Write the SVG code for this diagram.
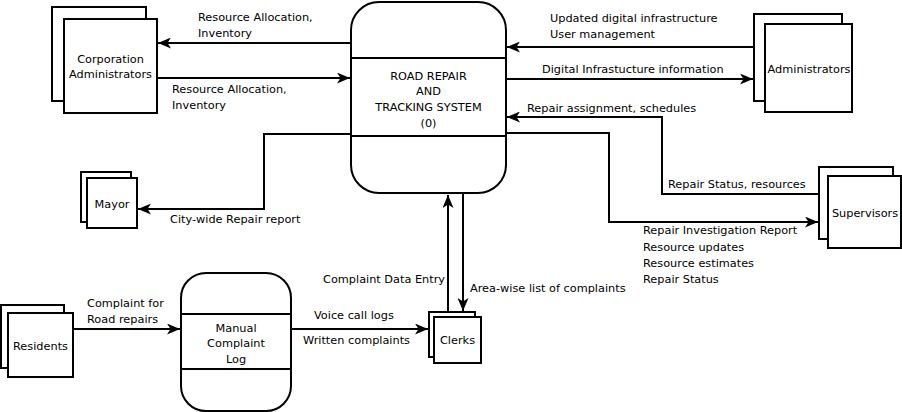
<svg xmlns="http://www.w3.org/2000/svg" width="902" height="412" viewBox="0 0 902 412">
<style>
.box{fill:#fff;stroke:#000;stroke-width:2}
.ln{fill:none;stroke:#000;stroke-width:2}
text{font-family:"DejaVu Sans",Verdana,sans-serif;font-size:11.3px;fill:#000}
.c{text-anchor:middle}
.e{text-anchor:end}
</style>
<defs>
<marker id="ah" viewBox="0 0 13 11" markerUnits="userSpaceOnUse" markerWidth="13" markerHeight="11" refX="13" refY="5.5" orient="auto">
<path d="M0,0 L13,5.5 L0,11 L3.5,5.5 Z" fill="#000"/>
</marker>
</defs>
<rect width="902" height="412" fill="#fff"/>

<g id="connectors">
<path class="ln" d="M351,43 H158" marker-end="url(#ah)"/>
<path class="ln" d="M157,78 H350" marker-end="url(#ah)"/>
<path class="ln" d="M754,47 H507" marker-end="url(#ah)"/>
<path class="ln" d="M506,79 H753" marker-end="url(#ah)"/>
<path class="ln" d="M819,194 H662 V117 H507" marker-end="url(#ah)"/>
<path class="ln" d="M506,133 H609 V222 H818" marker-end="url(#ah)"/>
<path class="ln" d="M351,134 H264 V209 H138" marker-end="url(#ah)"/>
<path class="ln" d="M73,329 H180" marker-end="url(#ah)"/>
<path class="ln" d="M291,329 H428" marker-end="url(#ah)"/>
<path class="ln" d="M448,312 V195" marker-end="url(#ah)"/>
<path class="ln" d="M463,193 V311" marker-end="url(#ah)"/>
<text x="198" y="21">Resource Allocation,</text>
<text x="198" y="37">Inventory</text>
<text x="172" y="93">Resource Allocation,</text>
<text x="172" y="109">Inventory</text>
<text x="550" y="22">Updated digital infrastructure</text>
<text x="550" y="38">User management</text>
<text x="542" y="73">Digital Infrastucture information</text>
<text x="527" y="112">Repair assignment, schedules</text>
<text x="668" y="188">Repair Status, resources</text>
<text x="643" y="234">Repair Investigation Report</text>
<text x="643" y="251">Resource updates</text>
<text x="643" y="267">Resource estimates</text>
<text x="643" y="283">Repair Status</text>
<text x="170" y="223">City-wide Repair report</text>
<text x="87" y="307">Complaint for</text>
<text x="87" y="323">Road repairs</text>
<text x="314" y="319">Voice call logs</text>
<text x="303" y="344">Written complaints</text>
<text x="445" y="283" class="e">Complaint Data Entry</text>
<text x="470" y="292">Area-wise list of complaints</text>
</g>

<g id="corp-admins">
<rect class="box" x="52" y="7" width="94" height="94"/>
<rect class="box" x="64" y="19" width="93" height="94"/>
<text x="110.5" y="63" class="c">Corporation</text>
<text x="110.5" y="78" class="c">Administrators</text>
</g>

<g id="system">
<rect class="box" x="351" y="2" width="155" height="191" rx="28" ry="28"/>
<path class="ln" d="M351,58 H506 M351,136 H506"/>
<text x="428.5" y="80" class="c">ROAD REPAIR</text>
<text x="428.5" y="95" class="c">AND</text>
<text x="428.5" y="111" class="c">TRACKING SYSTEM</text>
<text x="428.5" y="127" class="c">(0)</text>
</g>

<g id="administrators">
<rect class="box" x="754" y="14" width="88" height="87"/>
<rect class="box" x="765" y="24" width="87" height="88"/>
<text x="809" y="73" class="c">Administrators</text>
</g>

<g id="supervisors">
<rect class="box" x="819" y="167" width="74" height="72"/>
<rect class="box" x="828" y="176" width="73" height="72"/>
<text x="865" y="217" class="c">Supervisors</text>
</g>

<g id="mayor">
<rect class="box" x="81" y="172" width="50" height="50"/>
<rect class="box" x="87" y="178" width="50" height="50"/>
<text x="112" y="208" class="c">Mayor</text>
</g>

<g id="residents">
<rect class="box" x="1" y="305" width="63" height="63"/>
<rect class="box" x="8" y="313" width="65" height="64"/>
<text x="40.5" y="350" class="c">Residents</text>
</g>

<g id="manual-log">
<rect class="box" x="181" y="273" width="110" height="138" rx="25" ry="25"/>
<path class="ln" d="M181,314 H291 M181,369 H291"/>
<text x="236" y="332" class="c">Manual</text>
<text x="236" y="347" class="c">Complaint</text>
<text x="236" y="363" class="c">Log</text>
</g>

<g id="clerks">
<rect class="box" x="429" y="312" width="46" height="45"/>
<rect class="box" x="434" y="317" width="47" height="46"/>
<text x="457.5" y="344" class="c">Clerks</text>
</g>
</svg>
